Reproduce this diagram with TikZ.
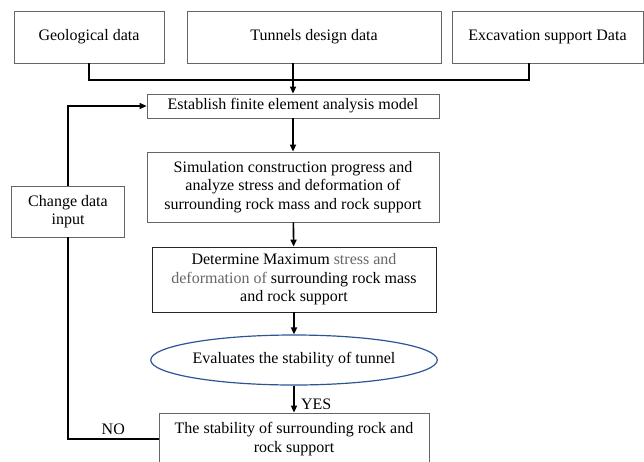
\documentclass[tikz,border=0pt]{standalone}
\usepackage{fontspec}
\setmainfont{Liberation Serif}
\usetikzlibrary{arrows.meta, shapes.geometric}
\definecolor{evalblue}{RGB}{46,84,150}
\tikzset{
  box/.style={draw=black!60, line width=0.8pt, fill=white, align=center, inner sep=2pt},
  flow/.style={line width=1.6pt, -{Triangle[length=7pt,width=6pt]}},
  link/.style={line width=1.6pt},
}
\begin{document}
\begin{tikzpicture}[x=1pt, y=-1pt, font=\fontsize{16}{18.5}\selectfont]
\useasboundingbox (0,0) rectangle (644,461);
\clip (0,0) rectangle (644,461);
\node[box, minimum width=150pt, minimum height=52pt] (geo) at (89,37) {Geological data};
\node[box, minimum width=254pt, minimum height=52pt] (des) at (314,37) {Tunnels design data};
\node[box, minimum width=191pt, minimum height=52pt] (exc) at (547.5,37) {Excavation support Data};
\node[box, minimum width=292pt, minimum height=24pt] (est) at (293,106) {Establish finite element analysis model};
\node[box, minimum width=292pt, minimum height=70pt] (sim) at (293,187) {Simulation construction progress and\\analyze stress and deformation of\\surrounding rock mass and rock support};
\node[box, draw=black!85, minimum width=284pt, minimum height=65pt] (det) at (294,279.5) {Determine Maximum \textcolor{black!60}{stress and}\\\textcolor{black!60}{deformation of} surrounding rock mass\\and rock support};
\node[ellipse, draw=evalblue, line width=1.2pt, inner sep=0pt, minimum width=254pt, minimum height=50pt] (eval) at (294,360) {Evaluates the stability of tunnel};
\node[box, minimum width=270pt, minimum height=52pt] (stab) at (294,439) {The stability of surrounding rock and\\rock support};
\node[box, minimum width=113pt, minimum height=51pt] (chg) at (68,211.5) {Change data\\input};
\coordinate (bus) at (293,80);
\coordinate (exc-out) at (529,63);
\draw[link] (geo.south) |- (bus) -| (exc-out);
\draw[flow] (est.north |- des.south) -- (est.north);
\draw[flow] (est) -- (sim);
\draw[flow] (sim) -- (det);
\draw[flow] (det) -- (eval);
\draw[flow] (eval) -- node[pos=0.7, right=3pt] {YES} (stab);
\draw[line width=1.2pt] (stab.west) -| node[pos=0.25, above] {NO} (chg.south);
\draw[line width=1.2pt, -{Triangle[length=7pt,width=6pt]}] (chg.north) |- (est.west);
\end{tikzpicture}
\end{document}
